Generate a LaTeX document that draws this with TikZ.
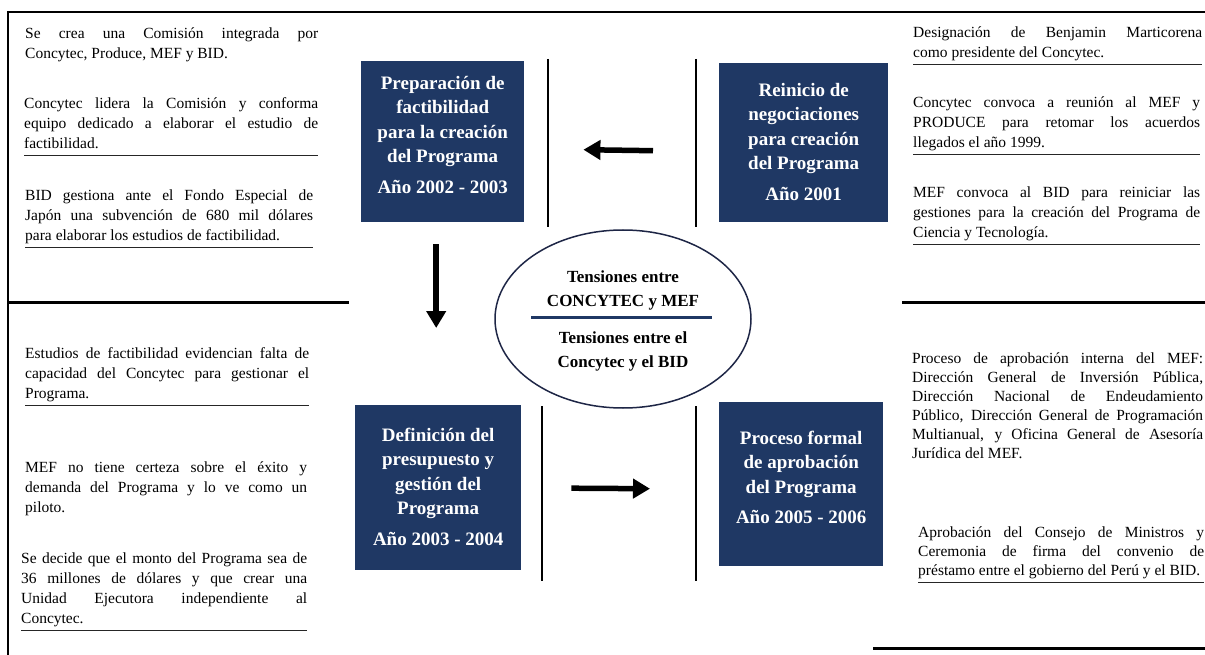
\documentclass[tikz,border=0pt]{standalone}
\usepackage{fontspec}
\setmainfont{Liberation Serif}
\usetikzlibrary{shapes.geometric,arrows.meta}
\definecolor{navy}{RGB}{31,56,100}
\definecolor{ellcol}{RGB}{30,38,70}
\newcommand\JL[1]{\hbox to\hsize{\strut #1}}
\newcommand\LL[1]{\hbox to\hsize{\strut #1\hfil}}
\newcommand\parblk[2]{\vbox{\hsize=#1pt\relax #2}}
\begin{document}
\begin{tikzpicture}[x=1pt,y=-1pt,
  para/.style={anchor=north west, inner sep=0pt, font=\fontsize{15.5}{20}\selectfont},
  parb/.style={anchor=north west, inner sep=0pt, font=\fontsize{15.5}{19}\selectfont},
  uline/.style={line width=1.1pt, black!85},
  frame/.style={line width=2pt, black},
  thick frame/.style={line width=3pt, black},
  sep/.style={line width=2pt, black},
  box/.style={fill=navy, draw=none, anchor=north west, inner sep=0pt},
  boxtxt/.style={align=center, text=white, inner sep=0pt, font=\bfseries\fontsize{19}{24.5}\selectfont},
  etxt/.style={align=center, inner sep=0pt, font=\bfseries\fontsize{17}{24}\selectfont},
  arr/.style={line width=5.5pt, -{Triangle[length=17pt,width=19pt]}}]
\useasboundingbox (0,0) rectangle (1205,655);
\fill[white] (0,0) rectangle (1205,655);

% frame lines
\draw[frame] (8,12) -- (1205,12);
\draw[frame] (8,11) -- (8,655);
\draw[thick frame] (7,302) -- (349,302);
\draw[thick frame] (902,302) -- (1205,302);
\draw[thick frame] (873,648) -- (1205,648);

% top-left texts
\node[para] (tl1) at (25,24) {\parblk{293}{\JL{Se crea una Comisión integrada por}\LL{Concytec, Produce, MEF y BID.}}};
\node[para] (tl2) at (24,94) {\parblk{294}{\JL{Concytec lidera la Comisión y conforma}\JL{equipo dedicado a elaborar el estudio de}\LL{factibilidad.}}};
\node[para] (tl3) at (25,186) {\parblk{288}{\JL{BID gestiona ante el Fondo Especial de}\JL{Japón una subvención de 680 mil dólares}\LL{para elaborar los estudios de factibilidad.}}};
\draw[uline] ([yshift=-1pt]tl2.south west) -- ([yshift=-1pt]tl2.south east);
\draw[uline] ([yshift=-1pt]tl3.south west) -- ([yshift=-1pt]tl3.south east);

% top-right texts
\node[para] (tr1) at (913,23) {\parblk{289}{\JL{Designación de Benjamin Marticorena}\LL{como presidente del Concytec.}}};
\node[para] (tr2) at (913,93) {\parblk{287}{\JL{Concytec convoca a reunión al MEF y}\JL{PRODUCE para retomar los acuerdos}\LL{llegados el año 1999.}}};
\node[para] (tr3) at (913,183) {\parblk{287}{\JL{MEF convoca al BID para reiniciar las}\JL{gestiones para la creación del Programa de}\LL{Ciencia y Tecnología.}}};
\draw[uline] ([yshift=-1pt]tr1.south west) -- ([yshift=-1pt]tr1.south east);
\draw[uline] ([yshift=-1pt]tr2.south west) -- ([yshift=-1pt]tr2.south east);
\draw[uline] ([yshift=-1pt]tr3.south west) -- ([yshift=-1pt]tr3.south east);

% bottom-left texts
\node[para] (bl1) at (25,344) {\parblk{284}{\JL{Estudios de factibilidad evidencian falta de}\JL{capacidad del Concytec para gestionar el}\LL{Programa.}}};
\node[para] (bl2) at (25,458) {\parblk{282}{\JL{MEF no tiene certeza sobre el éxito y}\JL{demanda del Programa y lo ve como un}\LL{piloto.}}};
\node[para] (bl3) at (21,549) {\parblk{286}{\JL{Se decide que el monto del Programa sea de}\JL{36 millones de dólares y que crear una}\JL{Unidad Ejecutora independiente al}\LL{Concytec.}}};
\draw[uline] ([yshift=-1pt]bl1.south west) -- ([yshift=-1pt]bl1.south east);
\draw[uline] ([yshift=-1pt]bl3.south west) -- ([yshift=-1pt]bl3.south east);

% bottom-right texts
\node[parb] (br1) at (912,350) {\parblk{291}{\JL{Proceso de aprobación interna del MEF:}\JL{Dirección General de Inversión Pública,}\JL{Dirección Nacional de Endeudamiento}\JL{Público, Dirección General de Programación}\JL{Multianual, y Oficina General de Asesoría}\LL{Jurídica del MEF.}}};
\node[parb] (br2) at (918,524) {\parblk{286}{\JL{Aprobación del Consejo de Ministros y}\JL{Ceremonia de firma del convenio de}\LL{préstamo entre el gobierno del Perú y el BID.}}};
\draw[uline] ([yshift=-1pt]br2.south west) -- ([yshift=-1pt]br2.south east);

% separators
\draw[sep] (548,59) -- (548,227);
\draw[sep] (696,59) -- (696,227);
\draw[sep] (542,406) -- (542,581);
\draw[sep] (696,406) -- (696,581);

% boxes
\node[box, minimum width=163, minimum height=161] (b1) at (361,61) {};
\node[box, minimum width=169, minimum height=159] (b2) at (719,63) {};
\node[box, minimum width=166, minimum height=165] (b3) at (355,405) {};
\node[box, minimum width=164, minimum height=164] (b4) at (719,402) {};
\node[boxtxt] (b1t) at ([yshift=7pt]b1.center) {Preparación de\\factibilidad\\para la creación\\del Programa\\[6pt]Año 2002 - 2003};
\node[boxtxt] (b2t) at ([yshift=1pt]b2.center) {Reinicio de\\negociaciones\\para creación\\del Programa\\[6pt]Año 2001};
\node[boxtxt] (b3t) at ([yshift=1pt]b3.center) {Definición del\\presupuesto y\\gestión del\\Programa\\[6pt]Año 2003 - 2004};
\node[boxtxt] (b4t) at ([yshift=7pt]b4.center) {Proceso formal\\de aprobación\\del Programa\\[6pt]Año 2005 - 2006};

% ellipse
\node[ellipse, draw=ellcol, line width=1.5pt, minimum width=256, minimum height=178, inner sep=0pt] (ell) at (623,319) {};
\draw[navy, line width=3pt] (531,317) -- (712,317);
\node[etxt] (e1) at (623,290) {Tensiones entre\\CONCYTEC y MEF};
\node[etxt] (e2) at (623,351) {Tensiones entre el\\Concytec y el BID};

% arrows
\draw[arr] ([xshift=-66pt,yshift=-8pt]b2.west) -- ([xshift=59pt,yshift=-8pt]b1.east);
\draw[arr] ([xshift=-6.5pt,yshift=-22pt]b1.south) -- ([xshift=-2pt,yshift=77pt]b3.north);
\draw[arr] ([xshift=50pt,yshift=-0.5pt]b3.east) -- ([xshift=-69pt,yshift=-4.5pt]b4.west);
\end{tikzpicture}
\end{document}
